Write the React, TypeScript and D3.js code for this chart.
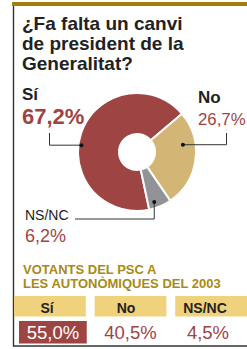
import * as d3 from 'd3';
import React from 'react';

// survey answers
const answers = ['Sí', 'No', 'NS/NC'];
const answerValues = [67.2, 26.7, 6.2];
const answerLabels = ['67,2%', '26,7%', '6,2%'];

// PSC voters table
const pscHeaders = ['Sí', 'No', 'NS/NC'];
const pscLabels = ['55,0%', '40,5%', '4,5%'];

const titleLines = ['¿Fa falta un canvi', 'de president de la', 'Generalitat?'];
const subtitleLines = ['VOTANTS DEL PSC A', 'LES AUTONÒMIQUES DEL 2003'];

const W = 247;
const H = 349;
const RED = '#9e4544';
const TAN = '#d3b675';
const GREY = '#929397';
const GOLD = '#9f800b';
const GOLD_TXT = '#a88a16';
const CELL = '#f0d27d';
const INK = '#222';
const FONT = "'Liberation Sans', Arial, Helvetica, sans-serif";

const cx = 137;
const cy = 152;
const outerR = 59;
const innerR = 18;

// where the leader dot sits on each slice (degrees clockwise from 12 o'clock, radius)
const dotAt = [
  { a: 277, r: 56 },
  { a: 81, r: 46.5 },
  { a: 161, r: 53 },
];

export default function App() {
  const color = d3.scaleOrdinal<string, string>().domain(answers).range([RED, TAN, GREY]);

  const start = (168 * Math.PI) / 180;
  const pie = d3
    .pie<number>()
    .sort(null)
    .startAngle(start)
    .endAngle(start + 2 * Math.PI);
  const arcs = pie(answerValues);
  const arc = d3.arc<d3.PieArcDatum<number>>().innerRadius(innerR).outerRadius(outerR);

  const dots = dotAt.map((d) => {
    const t = (d.a * Math.PI) / 180;
    return [cx + d.r * Math.sin(t), cy - d.r * Math.cos(t)];
  });

  // leader paths: dot -> elbow -> end
  const leaders = [
    `M${dots[0][0]},${dots[0][1]}H49.5V133`,
    `M${dots[1][0]},${dots[1][1]}H226.5V133`,
    `M${dots[2][0]},${dots[2][1]}V219H75`,
  ];

  const band = d3.scaleBand<string>().domain(pscHeaders).range([14, W]).paddingInner(0.11);
  const headX = d3.scalePoint<string>().domain(pscHeaders).range([47, 205]);
  const valX = d3.scalePoint<string>().domain(pscHeaders).range([53, 208]);

  return (
    <>
      <style>{`body{margin:0}`}</style>
      <svg width={W} height={H} style={{ display: 'block', fontFamily: FONT }}>
        <rect width={W} height={H} fill="#fff" />
        {/* frame */}
        <rect x={12} y={2} width={W - 12} height={4} fill={GOLD} />
        <line x1={13.5} x2={13.5} y1={6} y2={346.5} stroke="#333" strokeWidth={1.4} />
        <line x1={13} x2={W} y1={346} y2={346} stroke="#333" strokeWidth={1.4} />

        {/* title */}
        <text x={22} fill={INK} fontWeight="bold" fontSize={19}>
          {titleLines.map((l, i) => (
            <tspan key={l} x={22} y={30 + i * 20}>
              {l}
            </tspan>
          ))}
        </text>

        {/* donut */}
        <g transform={`translate(${cx},${cy})`}>
          {arcs.map((a, i) => (
            <path key={answers[i]} d={arc(a) || ''} fill={color(answers[i])} stroke="#fff" strokeWidth={2} />
          ))}
        </g>

        {leaders.map((d, i) => (
          <path key={i} d={d} fill="none" stroke="#333" strokeWidth={1} />
        ))}
        {dots.map((d, i) => (
          <circle key={i} cx={d[0]} cy={d[1]} r={2} fill="#111" />
        ))}

        {/* labels */}
        <text x={22} y={99.5} fontSize={17} fontWeight="bold" fill={INK}>{answers[0]}</text>
        <text x={22} y={123.5} fontSize={22} fontWeight="bold" fill={RED}>{answerLabels[0]}</text>
        <text x={198} y={102.5} fontSize={17} fontWeight="bold" fill={INK}>{answers[1]}</text>
        <text x={198} y={124.5} fontSize={16.8} fill={RED}>{answerLabels[1]}</text>
        <text x={25} y={220} fontSize={14} fill={INK}>{answers[2]}</text>
        <text x={25} y={241.5} fontSize={18} fill={RED}>{answerLabels[2]}</text>

        {/* PSC voters */}
        <text fontSize={13} fontWeight="bold" fill={GOLD_TXT}>
          {subtitleLines.map((l, i) => (
            <tspan key={l} x={23} y={273.5 + i * 14.5}>
              {l}
            </tspan>
          ))}
        </text>
        {pscHeaders.map((h) => (
          <g key={h}>
            <rect x={band(h)} y={296} width={band.bandwidth()} height={20.5} fill={CELL} />
            <text x={headX(h)} y={312.5} textAnchor="middle" fontSize={14} fontWeight="bold" fill={INK}>
              {h}
            </text>
          </g>
        ))}
        <rect x={(band(pscHeaders[0]) || 0) + 5} y={321} width={band.bandwidth() - 4} height={22.5} fill={RED} />
        {pscLabels.map((v, i) => (
          <text
            key={v}
            x={valX(pscHeaders[i])}
            y={339}
            textAnchor="middle"
            fontSize={18.5}
            fill={i === 0 ? '#fff' : RED}
          >
            {v}
          </text>
        ))}
      </svg>
    </>
  );
}
